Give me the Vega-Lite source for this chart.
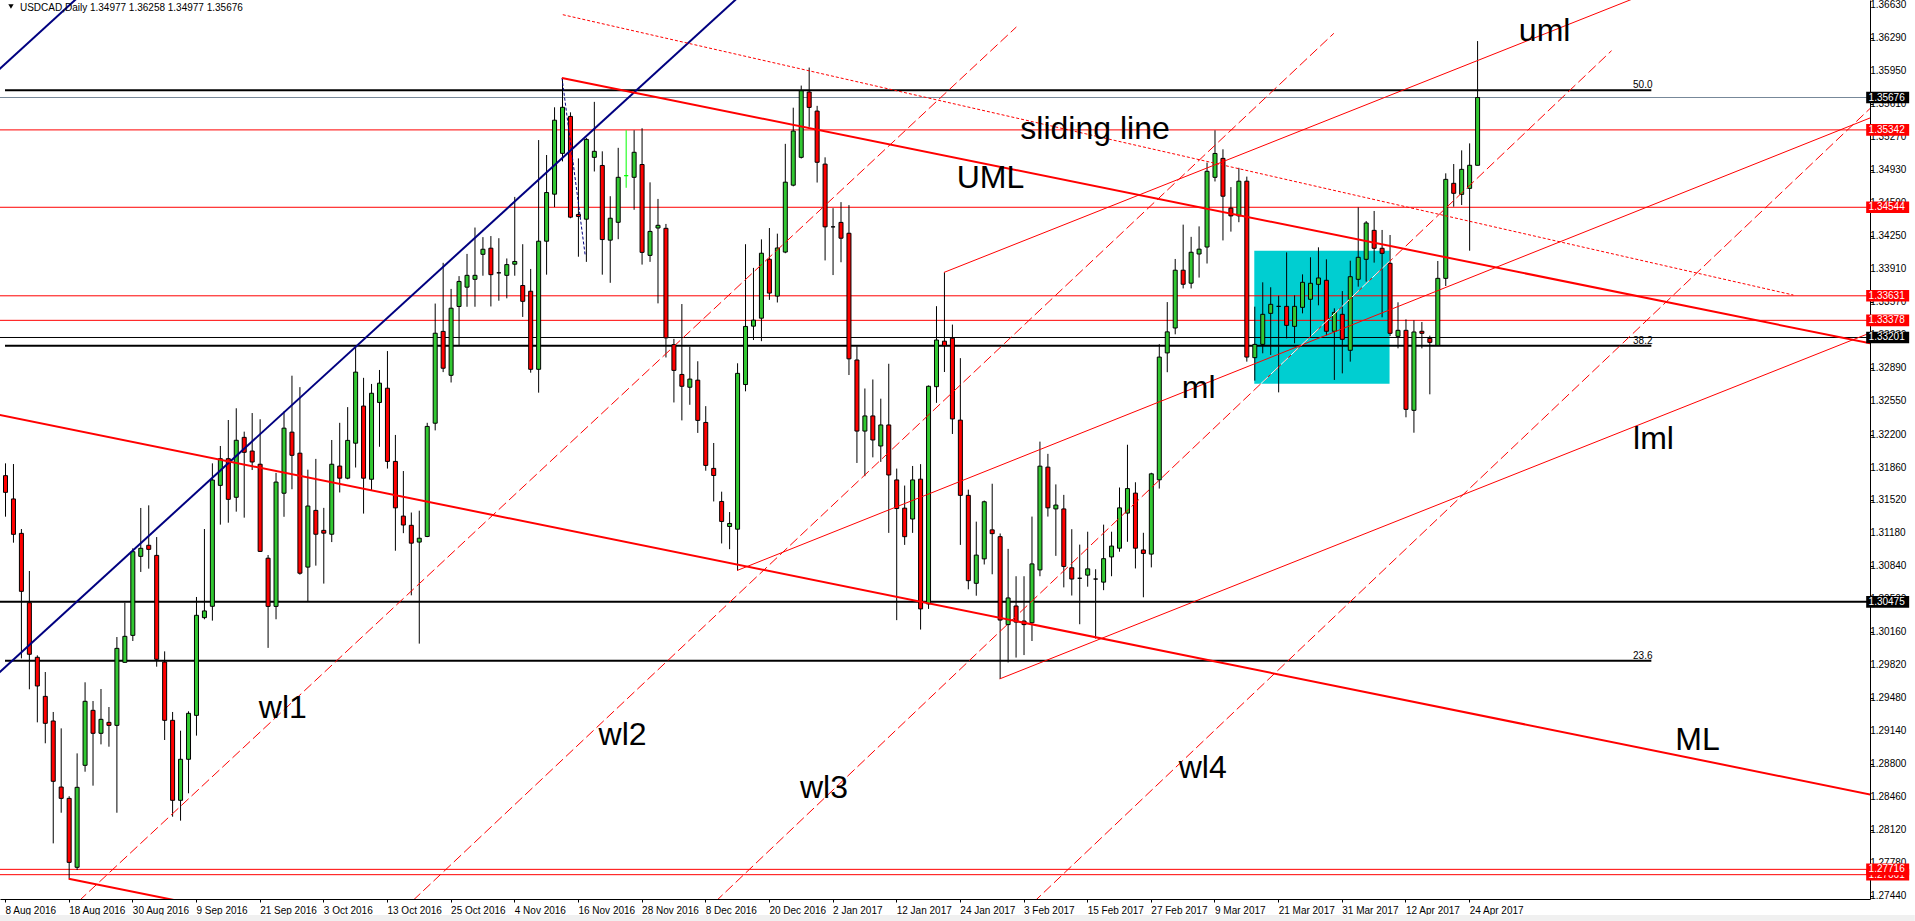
{
  "$schema": "https://vega.github.io/schema/vega-lite/v6.json",
  "width": 1870,
  "height": 899,
  "autosize": {"type": "none"},
  "padding": {"left": 0, "top": 0, "right": 45, "bottom": 22},
  "background": "white",
  "config": {
    "view": {"stroke": null},
    "font": "Liberation Sans",
    "axis": {"labelOverlap": false, "labelFlush": false}
  },
  "datasets": {
    "candles": [
      {"i":0,"o":1.31776,"h":1.31903,"l":1.31353,"c":1.31604},
      {"i":1,"o":1.31536,"h":1.31896,"l":1.31085,"c":1.31171},
      {"i":2,"o":1.31181,"h":1.31226,"l":1.29892,"c":1.30583},
      {"i":3,"o":1.30466,"h":1.30793,"l":1.29573,"c":1.29934},
      {"i":4,"o":1.29903,"h":1.29923,"l":1.29232,"c":1.29607},
      {"i":5,"o":1.29500,"h":1.29751,"l":1.29016,"c":1.29222},
      {"i":6,"o":1.29246,"h":1.29339,"l":1.27984,"c":1.28624},
      {"i":7,"o":1.28565,"h":1.29170,"l":1.28300,"c":1.28448},
      {"i":8,"o":1.28448,"h":1.28470,"l":1.27620,"c":1.27788},
      {"i":9,"o":1.27737,"h":1.28912,"l":1.27709,"c":1.28562},
      {"i":10,"o":1.28789,"h":1.29645,"l":1.28723,"c":1.29449},
      {"i":11,"o":1.29356,"h":1.29452,"l":1.28579,"c":1.29119},
      {"i":12,"o":1.29119,"h":1.29576,"l":1.29005,"c":1.29263},
      {"i":13,"o":1.29232,"h":1.29390,"l":1.28981,"c":1.29201},
      {"i":14,"o":1.29201,"h":1.30112,"l":1.28300,"c":1.29995},
      {"i":15,"o":1.29851,"h":1.30466,"l":1.29847,"c":1.30119},
      {"i":16,"o":1.30129,"h":1.31027,"l":1.30071,"c":1.30992},
      {"i":17,"o":1.30944,"h":1.31443,"l":1.30783,"c":1.31027},
      {"i":18,"o":1.31058,"h":1.31470,"l":1.30817,"c":1.31016},
      {"i":19,"o":1.30954,"h":1.31143,"l":1.29806,"c":1.29882},
      {"i":20,"o":1.29854,"h":1.29964,"l":1.29050,"c":1.29253},
      {"i":21,"o":1.29253,"h":1.29339,"l":1.28259,"c":1.28428},
      {"i":22,"o":1.28428,"h":1.29146,"l":1.28218,"c":1.28851},
      {"i":23,"o":1.28851,"h":1.29346,"l":1.28500,"c":1.29325},
      {"i":24,"o":1.29304,"h":1.30525,"l":1.29095,"c":1.30336},
      {"i":25,"o":1.30312,"h":1.31226,"l":1.30295,"c":1.30381},
      {"i":26,"o":1.30429,"h":1.31903,"l":1.30281,"c":1.31731},
      {"i":27,"o":1.31676,"h":1.32082,"l":1.31271,"c":1.31951},
      {"i":28,"o":1.31951,"h":1.32350,"l":1.31291,"c":1.31532},
      {"i":29,"o":1.31553,"h":1.32471,"l":1.31405,"c":1.32141},
      {"i":30,"o":1.32171,"h":1.32230,"l":1.31343,"c":1.32017},
      {"i":31,"o":1.32030,"h":1.32422,"l":1.31834,"c":1.31917},
      {"i":32,"o":1.31894,"h":1.32358,"l":1.30990,"c":1.30995},
      {"i":33,"o":1.30925,"h":1.30958,"l":1.30000,"c":1.30428},
      {"i":34,"o":1.30428,"h":1.31805,"l":1.30295,"c":1.31710},
      {"i":35,"o":1.31595,"h":1.32439,"l":1.31352,"c":1.32266},
      {"i":36,"o":1.32225,"h":1.32807,"l":1.31636,"c":1.31986},
      {"i":37,"o":1.32008,"h":1.32689,"l":1.30755,"c":1.30770},
      {"i":38,"o":1.30833,"h":1.31838,"l":1.30479,"c":1.31463},
      {"i":39,"o":1.31418,"h":1.31949,"l":1.30848,"c":1.31172},
      {"i":40,"o":1.31212,"h":1.31444,"l":1.30663,"c":1.31183},
      {"i":41,"o":1.31172,"h":1.32144,"l":1.31091,"c":1.31894},
      {"i":42,"o":1.31875,"h":1.32321,"l":1.31603,"c":1.31750},
      {"i":43,"o":1.31750,"h":1.32483,"l":1.31739,"c":1.32140},
      {"i":44,"o":1.32111,"h":1.33116,"l":1.31860,"c":1.32844},
      {"i":45,"o":1.32494,"h":1.32785,"l":1.31385,"c":1.31750},
      {"i":46,"o":1.31739,"h":1.32722,"l":1.31621,"c":1.32626},
      {"i":47,"o":1.32531,"h":1.32866,"l":1.32074,"c":1.32730},
      {"i":48,"o":1.32678,"h":1.33061,"l":1.31849,"c":1.31923},
      {"i":49,"o":1.31923,"h":1.32196,"l":1.31002,"c":1.31444},
      {"i":50,"o":1.31359,"h":1.31824,"l":1.31183,"c":1.31267},
      {"i":51,"o":1.31264,"h":1.31396,"l":1.30542,"c":1.31080},
      {"i":52,"o":1.31091,"h":1.31415,"l":1.30044,"c":1.31131},
      {"i":53,"o":1.31149,"h":1.32321,"l":1.31142,"c":1.32284},
      {"i":54,"o":1.32317,"h":1.33551,"l":1.32243,"c":1.33245},
      {"i":55,"o":1.33264,"h":1.33971,"l":1.32844,"c":1.32884},
      {"i":56,"o":1.32811,"h":1.33702,"l":1.32737,"c":1.33503},
      {"i":57,"o":1.33521,"h":1.33834,"l":1.33116,"c":1.33779},
      {"i":58,"o":1.33720,"h":1.34063,"l":1.33518,"c":1.33842},
      {"i":59,"o":1.33801,"h":1.34335,"l":1.33518,"c":1.33842},
      {"i":60,"o":1.34059,"h":1.34236,"l":1.33838,"c":1.34111},
      {"i":61,"o":1.34122,"h":1.34247,"l":1.33521,"c":1.33849},
      {"i":62,"o":1.33868,"h":1.34225,"l":1.33580,"c":1.33868},
      {"i":63,"o":1.33842,"h":1.34016,"l":1.33605,"c":1.33953},
      {"i":64,"o":1.33957,"h":1.34651,"l":1.33838,"c":1.33985},
      {"i":65,"o":1.33737,"h":1.34163,"l":1.33413,"c":1.33574},
      {"i":66,"o":1.33678,"h":1.33908,"l":1.32838,"c":1.32873},
      {"i":67,"o":1.32873,"h":1.35237,"l":1.32632,"c":1.34194},
      {"i":68,"o":1.34194,"h":1.35083,"l":1.33849,"c":1.34696},
      {"i":69,"o":1.34679,"h":1.35575,"l":1.34546,"c":1.35442},
      {"i":70,"o":1.35100,"h":1.35878,"l":1.35017,"c":1.35575},
      {"i":71,"o":1.35481,"h":1.35523,"l":1.34431,"c":1.34442},
      {"i":72,"o":1.34470,"h":1.35048,"l":1.34034,"c":1.34449},
      {"i":73,"o":1.34421,"h":1.35260,"l":1.33981,"c":1.35244},
      {"i":74,"o":1.35059,"h":1.35631,"l":1.34913,"c":1.35121},
      {"i":75,"o":1.34975,"h":1.35121,"l":1.33849,"c":1.34211},
      {"i":76,"o":1.34205,"h":1.34658,"l":1.33765,"c":1.34431},
      {"i":77,"o":1.34389,"h":1.35157,"l":1.34215,"c":1.34853},
      {"i":78,"o":1.34870,"h":1.35338,"l":1.34745,"c":1.34870},
      {"i":79,"o":1.34853,"h":1.35338,"l":1.34518,"c":1.35111},
      {"i":80,"o":1.34985,"h":1.35359,"l":1.33953,"c":1.34079},
      {"i":81,"o":1.34048,"h":1.34801,"l":1.33981,"c":1.34295},
      {"i":82,"o":1.34330,"h":1.34630,"l":1.33553,"c":1.34358},
      {"i":83,"o":1.34327,"h":1.34372,"l":1.32995,"c":1.33197},
      {"i":84,"o":1.33127,"h":1.33187,"l":1.32531,"c":1.32862},
      {"i":85,"o":1.32820,"h":1.33546,"l":1.32346,"c":1.32698},
      {"i":86,"o":1.32688,"h":1.33106,"l":1.32507,"c":1.32772},
      {"i":87,"o":1.32761,"h":1.32956,"l":1.32217,"c":1.32346},
      {"i":88,"o":1.32325,"h":1.32493,"l":1.31827,"c":1.31882},
      {"i":89,"o":1.31851,"h":1.32113,"l":1.31510,"c":1.31778},
      {"i":90,"o":1.31510,"h":1.31611,"l":1.31077,"c":1.31304},
      {"i":91,"o":1.31252,"h":1.31401,"l":1.31018,"c":1.31283},
      {"i":92,"o":1.31224,"h":1.32935,"l":1.30798,"c":1.32831},
      {"i":93,"o":1.32716,"h":1.34163,"l":1.32646,"c":1.33315},
      {"i":94,"o":1.33318,"h":1.33919,"l":1.33175,"c":1.33380},
      {"i":95,"o":1.33400,"h":1.34213,"l":1.33163,"c":1.34070},
      {"i":96,"o":1.34008,"h":1.34330,"l":1.33589,"c":1.33659},
      {"i":97,"o":1.33628,"h":1.34272,"l":1.33562,"c":1.34124},
      {"i":98,"o":1.34082,"h":1.35198,"l":1.34070,"c":1.34803},
      {"i":99,"o":1.34772,"h":1.35571,"l":1.34760,"c":1.35330},
      {"i":100,"o":1.35059,"h":1.35799,"l":1.35047,"c":1.35745},
      {"i":101,"o":1.35733,"h":1.35985,"l":1.35373,"c":1.35574},
      {"i":102,"o":1.35536,"h":1.35590,"l":1.34799,"c":1.35008},
      {"i":103,"o":1.34989,"h":1.35059,"l":1.33996,"c":1.34342},
      {"i":104,"o":1.34342,"h":1.34535,"l":1.33845,"c":1.34342},
      {"i":105,"o":1.34388,"h":1.34597,"l":1.33977,"c":1.34225},
      {"i":106,"o":1.34276,"h":1.34566,"l":1.32814,"c":1.32981},
      {"i":107,"o":1.32969,"h":1.33109,"l":1.31907,"c":1.32236},
      {"i":108,"o":1.32236,"h":1.32675,"l":1.31771,"c":1.32392},
      {"i":109,"o":1.32392,"h":1.32768,"l":1.31965,"c":1.32144},
      {"i":110,"o":1.32082,"h":1.32570,"l":1.31918,"c":1.32299},
      {"i":111,"o":1.32299,"h":1.32930,"l":1.31186,"c":1.31783},
      {"i":112,"o":1.31732,"h":1.31849,"l":1.30286,"c":1.31437},
      {"i":113,"o":1.31441,"h":1.31674,"l":1.31062,"c":1.31147},
      {"i":114,"o":1.31329,"h":1.31876,"l":1.31186,"c":1.31732},
      {"i":115,"o":1.31740,"h":1.31895,"l":1.30189,"c":1.30402},
      {"i":116,"o":1.30453,"h":1.32706,"l":1.30402,"c":1.32698},
      {"i":117,"o":1.32694,"h":1.33524,"l":1.32527,"c":1.33175},
      {"i":118,"o":1.33163,"h":1.33872,"l":1.32845,"c":1.33117},
      {"i":119,"o":1.33194,"h":1.33334,"l":1.32206,"c":1.32361},
      {"i":120,"o":1.32349,"h":1.32988,"l":1.31062,"c":1.31573},
      {"i":121,"o":1.31573,"h":1.31632,"l":1.30604,"c":1.30693},
      {"i":122,"o":1.30666,"h":1.31302,"l":1.30538,"c":1.30957},
      {"i":123,"o":1.30918,"h":1.31519,"l":1.30860,"c":1.31507},
      {"i":124,"o":1.31217,"h":1.31693,"l":1.30759,"c":1.31178},
      {"i":125,"o":1.31147,"h":1.31180,"l":1.29680,"c":1.30287},
      {"i":126,"o":1.30240,"h":1.31021,"l":1.29850,"c":1.30515},
      {"i":127,"o":1.30432,"h":1.30739,"l":1.29900,"c":1.30266},
      {"i":128,"o":1.30277,"h":1.30739,"l":1.29926,"c":1.30240},
      {"i":129,"o":1.30259,"h":1.31354,"l":1.30071,"c":1.30866},
      {"i":130,"o":1.30804,"h":1.32127,"l":1.30739,"c":1.31874},
      {"i":131,"o":1.31864,"h":1.32001,"l":1.31354,"c":1.31444},
      {"i":132,"o":1.31433,"h":1.31686,"l":1.30949,"c":1.31473},
      {"i":133,"o":1.31433,"h":1.31578,"l":1.30624,"c":1.30840},
      {"i":134,"o":1.30826,"h":1.31224,"l":1.30540,"c":1.30710},
      {"i":135,"o":1.30718,"h":1.31065,"l":1.30244,"c":1.30718},
      {"i":136,"o":1.30750,"h":1.31198,"l":1.30631,"c":1.30815},
      {"i":137,"o":1.30710,"h":1.30811,"l":1.30096,"c":1.30710},
      {"i":138,"o":1.30678,"h":1.31271,"l":1.30595,"c":1.30920},
      {"i":139,"o":1.30938,"h":1.31198,"l":1.30739,"c":1.31050},
      {"i":140,"o":1.31028,"h":1.31654,"l":1.30992,"c":1.31444},
      {"i":141,"o":1.31390,"h":1.32095,"l":1.31094,"c":1.31643},
      {"i":142,"o":1.31596,"h":1.31708,"l":1.30819,"c":1.31028},
      {"i":143,"o":1.31010,"h":1.31187,"l":1.30522,"c":1.30974},
      {"i":144,"o":1.30967,"h":1.31806,"l":1.30830,"c":1.31795},
      {"i":145,"o":1.31733,"h":1.33132,"l":1.31643,"c":1.32999},
      {"i":146,"o":1.33042,"h":1.33566,"l":1.32843,"c":1.33259},
      {"i":147,"o":1.33299,"h":1.34011,"l":1.33234,"c":1.33895},
      {"i":148,"o":1.33895,"h":1.34365,"l":1.33707,"c":1.33750},
      {"i":149,"o":1.33761,"h":1.34239,"l":1.33707,"c":1.34080},
      {"i":150,"o":1.34062,"h":1.34347,"l":1.33819,"c":1.34112},
      {"i":151,"o":1.34134,"h":1.35005,"l":1.33964,"c":1.34915},
      {"i":152,"o":1.34853,"h":1.35337,"l":1.34810,"c":1.35099},
      {"i":153,"o":1.35048,"h":1.35142,"l":1.34202,"c":1.34658},
      {"i":154,"o":1.34535,"h":1.34752,"l":1.34293,"c":1.34455},
      {"i":155,"o":1.34455,"h":1.34951,"l":1.34390,"c":1.34813},
      {"i":156,"o":1.34813,"h":1.34860,"l":1.32952,"c":1.32999},
      {"i":157,"o":1.32993,"h":1.33519,"l":1.32756,"c":1.33130},
      {"i":158,"o":1.33130,"h":1.33770,"l":1.33038,"c":1.33440},
      {"i":159,"o":1.33450,"h":1.33719,"l":1.33021,"c":1.33543},
      {"i":160,"o":1.33522,"h":1.33632,"l":1.32635,"c":1.33522},
      {"i":161,"o":1.33522,"h":1.34079,"l":1.33192,"c":1.33326},
      {"i":162,"o":1.33316,"h":1.33636,"l":1.33141,"c":1.33522},
      {"i":163,"o":1.33512,"h":1.33852,"l":1.33450,"c":1.33770},
      {"i":164,"o":1.33595,"h":1.34028,"l":1.33210,"c":1.33760},
      {"i":165,"o":1.33749,"h":1.34131,"l":1.33533,"c":1.33815},
      {"i":166,"o":1.33791,"h":1.34007,"l":1.33223,"c":1.33265},
      {"i":167,"o":1.33265,"h":1.33502,"l":1.32763,"c":1.33460},
      {"i":168,"o":1.33440,"h":1.33680,"l":1.32831,"c":1.33182},
      {"i":169,"o":1.33069,"h":1.33993,"l":1.32952,"c":1.33828},
      {"i":170,"o":1.33801,"h":1.34543,"l":1.33725,"c":1.34028},
      {"i":171,"o":1.34007,"h":1.34402,"l":1.33777,"c":1.34382},
      {"i":172,"o":1.34306,"h":1.34506,"l":1.33973,"c":1.34121},
      {"i":173,"o":1.34121,"h":1.34310,"l":1.33409,"c":1.34069},
      {"i":174,"o":1.33966,"h":1.34258,"l":1.33216,"c":1.33244},
      {"i":175,"o":1.33213,"h":1.33564,"l":1.33089,"c":1.33275},
      {"i":176,"o":1.33275,"h":1.33388,"l":1.32378,"c":1.32460},
      {"i":177,"o":1.32450,"h":1.33378,"l":1.32219,"c":1.33258},
      {"i":178,"o":1.33265,"h":1.33361,"l":1.33089,"c":1.33244},
      {"i":179,"o":1.33192,"h":1.33220,"l":1.32615,"c":1.33151},
      {"i":180,"o":1.33120,"h":1.33990,"l":1.33120,"c":1.33811},
      {"i":181,"o":1.33811,"h":1.34894,"l":1.33732,"c":1.34832},
      {"i":182,"o":1.34791,"h":1.34990,"l":1.34550,"c":1.34688},
      {"i":183,"o":1.34677,"h":1.35131,"l":1.34567,"c":1.34935},
      {"i":184,"o":1.34739,"h":1.35203,"l":1.34096,"c":1.34977},
      {"i":185,"o":1.34977,"h":1.36258,"l":1.34977,"c":1.35676}
    ],
    "zone": [{"x1":157,"x2":174,"top":1.34096,"bottom":1.32723}],
    "priceScale": [{"p":1.3663},{"p":1.3629},{"p":1.3595},{"p":1.3561},{"p":1.3527},{"p":1.3493},{"p":1.3459},{"p":1.3425},{"p":1.3391},{"p":1.3357},{"p":1.3323},{"p":1.3289},{"p":1.3255},{"p":1.322},{"p":1.3186},{"p":1.3152},{"p":1.3118},{"p":1.3084},{"p":1.305},{"p":1.3016},{"p":1.2982},{"p":1.2948},{"p":1.2914},{"p":1.288},{"p":1.2846},{"p":1.2812},{"p":1.2778},{"p":1.2744}],
    "redLevels": [{"p":1.35342},{"p":1.34544},{"p":1.33631},{"p":1.33378},{"p":1.27661},{"p":1.27716}],
    "blackLevels": [{"p":1.35676},{"p":1.33201},{"p":1.30475}],
    "fib": [{"p":1.35750,"t":"50.0"},{"p":1.33116,"t":"38.2"},{"p":1.29868,"t":"23.6"}],
    "thickRed": [
      {"n":"UML","x1":70,"p1":1.35878,"x2":240,"p2":1.33047},
      {"n":"ML","x1":-5,"p1":1.32475,"x2":240,"p2":1.28395},
      {"n":"lower","x1":8,"p1":1.27620,"x2":30,"p2":1.27254}
    ],
    "thinRed": [
      {"n":"uml","x1":118,"p1":1.33872,"x2":215,"p2":1.37033},
      {"n":"ml","x1":92,"p1":1.30798,"x2":240,"p2":1.35649},
      {"n":"lml","x1":125,"p1":1.29680,"x2":240,"p2":1.33431}
    ],
    "warningLines": [
      {"n":"wl1","x1":8,"p1":1.27291,"x2":127.1,"p2":1.36403},
      {"n":"wl2","x1":50,"p1":1.27297,"x2":167,"p2":1.36338},
      {"n":"wl3","x1":88,"p1":1.27283,"x2":201.9,"p2":1.36159},
      {"n":"wl4","x1":128,"p1":1.27279,"x2":240,"p2":1.36000}
    ],
    "wl3InZone": [{"x1":157.8,"p1":1.32723,"x2":174,"p2":1.33987}],
    "slidingLine": [{"x1":70.1,"p1":1.36530,"x2":224.75,"p2":1.33639}],
    "navy": [
      {"x1":-2,"p1":1.35872,"x2":10,"p2":1.36771},
      {"x1":-2,"p1":1.29650,"x2":95,"p2":1.36924}
    ],
    "navyDash": [{"x1":70,"p1":1.35878,"x2":72.9,"p2":1.34058}],
    "labels": [
      {"t":"uml","x":190.25,"p":1.36262},
      {"t":"sliding line","x":127.6,"p":1.35248},
      {"t":"UML","x":119.6,"p":1.34743},
      {"t":"ml","x":147.9,"p":1.32577},
      {"t":"lml","x":204.6,"p":1.32048},
      {"t":"ML","x":209.9,"p":1.28947},
      {"t":"wl1","x":31.9,"p":1.29277},
      {"t":"wl2","x":74.6,"p":1.28998},
      {"t":"wl3","x":99.9,"p":1.28452},
      {"t":"wl4","x":147.5,"p":1.28658}
    ],
    "header": [{"t":"USDCAD,Daily  1.34977 1.36258 1.34977 1.35676","x":1.875,"p":1.36568}]
  },
  "layer": [
    {
      "data": {"name": "zone"},
      "mark": {"type": "rect", "fill": "#00CED1"},
      "encoding": {
        "x": {
          "field": "x1", "type": "quantitative",
          "scale": {"domain": [0, 233.75], "nice": false, "zero": false},
          "axis": {
            "title": null,
            "values": [0,8,16,24,32,40,48,56,64,72,80,88,96,104,112,120,128,136,144,152,160,168,176,184],
            "labelExpr": "['8 Aug 2016','18 Aug 2016','30 Aug 2016','9 Sep 2016','21 Sep 2016','3 Oct 2016','13 Oct 2016','25 Oct 2016','4 Nov 2016','16 Nov 2016','28 Nov 2016','8 Dec 2016','20 Dec 2016','2 Jan 2017','12 Jan 2017','24 Jan 2017','3 Feb 2017','15 Feb 2017','27 Feb 2017','9 Mar 2017','21 Mar 2017','31 Mar 2017','12 Apr 2017','24 Apr 2017'][datum.value / 8]",
            "labelAlign": "left", "labelBaseline": "top", "labelFlush": false, "labelOverlap": false,
            "labelFont": "Liberation Sans", "labelFontSize": 10, "labelColor": "black",
            "tickSize": 3, "tickColor": "black", "domainColor": "black", "labelPadding": 3, "grid": false
          }
        },
        "x2": {"field": "x2"},
        "y": {
          "field": "top", "type": "quantitative",
          "scale": {"domain": [1.274102, 1.366816], "nice": false, "zero": false},
          "axis": {
            "orient": "right", "title": null,
            "values": [1.3663,1.3629,1.3595,1.3561,1.3527,1.3493,1.3459,1.3425,1.3391,1.3357,1.3323,1.3289,1.3255,1.322,1.3186,1.3152,1.3118,1.3084,1.305,1.3016,1.2982,1.2948,1.2914,1.288,1.2846,1.2812,1.2778,1.2744],
            "labels": false,
            "tickSize": 3, "tickColor": "black", "domainColor": "black", "grid": false
          }
        },
        "y2": {"field": "bottom"}
      }
    },
    {
      "data": {"name": "redLevels"},
      "mark": {"type": "rule", "color": "#FF0000", "strokeWidth": 1},
      "encoding": {"y": {"field": "p", "type": "quantitative", "title": null}}
    },
    {
      "data": {"values": [{"p": 1.35676}]},
      "mark": {"type": "rule", "color": "#778899", "strokeWidth": 1},
      "encoding": {"y": {"field": "p", "type": "quantitative", "title": null}}
    },
    {
      "data": {"values": [{"p": 1.33201}]},
      "mark": {"type": "rule", "color": "black", "strokeWidth": 1},
      "encoding": {"y": {"field": "p", "type": "quantitative", "title": null}}
    },
    {
      "data": {"values": [{"p": 1.30475}]},
      "mark": {"type": "rule", "color": "black", "strokeWidth": 2},
      "encoding": {"y": {"field": "p", "type": "quantitative", "title": null}}
    },
    {
      "data": {"name": "fib"},
      "mark": {"type": "rule", "color": "black", "strokeWidth": 2},
      "encoding": {
        "x": {"datum": 0},
        "x2": {"datum": 206.9},
        "y": {"field": "p", "type": "quantitative", "title": null}
      }
    },
    {
      "data": {"name": "fib"},
      "mark": {"type": "text", "align": "left", "baseline": "alphabetic", "dy": -2, "fontSize": 10, "font": "Liberation Sans", "color": "black"},
      "encoding": {
        "x": {"datum": 204.6},
        "y": {"field": "p", "type": "quantitative", "title": null},
        "text": {"field": "t"}
      }
    },
    {
      "data": {"name": "candles"},
      "mark": {"type": "rule", "strokeWidth": 1, "xOffset": 0.5, "clip": true},
      "encoding": {
        "x": {"field": "i", "type": "quantitative", "title": null},
        "y": {"field": "l", "type": "quantitative", "title": null},
        "y2": {"field": "h"},
        "color": {"condition": {"test": "datum.i == 78", "value": "#00FF00"}, "value": "black"}
      }
    },
    {
      "data": {"name": "candles"},
      "mark": {"type": "bar", "size": 4, "strokeWidth": 1, "xOffset": 0.5, "clip": true},
      "encoding": {
        "x": {"field": "i", "type": "quantitative", "title": null},
        "y": {"field": "o", "type": "quantitative", "title": null},
        "y2": {"field": "c"},
        "fill": {"condition": [{"test": "datum.c > datum.o", "value": "#32C832"}, {"test": "datum.c < datum.o", "value": "#FF0000"}], "value": "black"},
        "stroke": {"condition": {"test": "datum.i == 78", "value": "#00FF00"}, "value": "black"}
      }
    },
    {
      "data": {"name": "navy"},
      "mark": {"type": "rule", "color": "#000080", "strokeWidth": 2, "clip": true},
      "encoding": {
        "x": {"field": "x1", "type": "quantitative", "title": null}, "x2": {"field": "x2"},
        "y": {"field": "p1", "type": "quantitative", "title": null}, "y2": {"field": "p2"}
      }
    },
    {
      "data": {"name": "navyDash"},
      "mark": {"type": "rule", "color": "#000080", "strokeWidth": 1, "strokeDash": [3, 2], "clip": true},
      "encoding": {
        "x": {"field": "x1", "type": "quantitative", "title": null}, "x2": {"field": "x2"},
        "y": {"field": "p1", "type": "quantitative", "title": null}, "y2": {"field": "p2"}
      }
    },
    {
      "data": {"name": "thickRed"},
      "mark": {"type": "rule", "color": "#FF0000", "strokeWidth": 2, "clip": true},
      "encoding": {
        "x": {"field": "x1", "type": "quantitative", "title": null}, "x2": {"field": "x2"},
        "y": {"field": "p1", "type": "quantitative", "title": null}, "y2": {"field": "p2"}
      }
    },
    {
      "data": {"name": "thinRed"},
      "mark": {"type": "rule", "color": "#FF0000", "strokeWidth": 1, "clip": true},
      "encoding": {
        "x": {"field": "x1", "type": "quantitative", "title": null}, "x2": {"field": "x2"},
        "y": {"field": "p1", "type": "quantitative", "title": null}, "y2": {"field": "p2"}
      }
    },
    {
      "data": {"name": "warningLines"},
      "mark": {"type": "rule", "color": "#FF0000", "strokeWidth": 1, "strokeDash": [10, 4], "clip": true},
      "encoding": {
        "x": {"field": "x1", "type": "quantitative", "title": null}, "x2": {"field": "x2"},
        "y": {"field": "p1", "type": "quantitative", "title": null}, "y2": {"field": "p2"}
      }
    },
    {
      "data": {"name": "wl3InZone"},
      "mark": {"type": "rule", "color": "white", "strokeWidth": 1, "strokeDash": [10, 4], "clip": true},
      "encoding": {
        "x": {"field": "x1", "type": "quantitative", "title": null}, "x2": {"field": "x2"},
        "y": {"field": "p1", "type": "quantitative", "title": null}, "y2": {"field": "p2"}
      }
    },
    {
      "data": {"name": "slidingLine"},
      "mark": {"type": "rule", "color": "#FF0000", "strokeWidth": 1, "strokeDash": [3, 2], "clip": true},
      "encoding": {
        "x": {"field": "x1", "type": "quantitative", "title": null}, "x2": {"field": "x2"},
        "y": {"field": "p1", "type": "quantitative", "title": null}, "y2": {"field": "p2"}
      }
    },
    {
      "data": {"name": "labels"},
      "mark": {"type": "text", "align": "left", "baseline": "alphabetic", "fontSize": 32, "font": "Liberation Sans", "color": "black"},
      "encoding": {
        "x": {"field": "x", "type": "quantitative", "title": null},
        "y": {"field": "p", "type": "quantitative", "title": null},
        "text": {"field": "t"}
      }
    },
    {
      "data": {"name": "header"},
      "mark": {"type": "text", "align": "left", "baseline": "alphabetic", "fontSize": 10, "font": "Liberation Sans", "color": "black"},
      "encoding": {
        "x": {"field": "x", "type": "quantitative", "title": null},
        "y": {"field": "p", "type": "quantitative", "title": null},
        "text": {"field": "t"}
      }
    },
    {
      "data": {"values": [{"p": 1.36615}]},
      "mark": {"type": "point", "shape": "triangle-down", "size": 28, "filled": true, "color": "black", "opacity": 1},
      "encoding": {
        "x": {"datum": 0.75},
        "y": {"field": "p", "type": "quantitative", "title": null}
      }
    },
    {
      "data": {"name": "priceScale"},
      "mark": {"type": "text", "align": "left", "baseline": "middle", "fontSize": 10, "font": "Liberation Sans", "color": "black"},
      "encoding": {
        "x": {"datum": 234.4},
        "y": {"field": "p", "type": "quantitative", "title": null},
        "text": {"field": "p", "type": "quantitative", "format": ".5f"}
      }
    },
    {
      "data": {"name": "redLevels"},
      "transform": [{"filter": "datum.p != 1.27716"}],
      "mark": {"type": "point", "shape": "M-1,-0.27L1,-0.27L1,0.27L-1,0.27Z", "size": 1849, "filled": true, "color": "#FF0000", "opacity": 1, "strokeWidth": 0},
      "encoding": {
        "x": {"datum": 236.6},
        "y": {"field": "p", "type": "quantitative", "title": null}
      }
    },
    {
      "data": {"name": "blackLevels"},
      "mark": {"type": "point", "shape": "M-1,-0.27L1,-0.27L1,0.27L-1,0.27Z", "size": 1849, "filled": true, "color": "black", "opacity": 1, "strokeWidth": 0},
      "encoding": {
        "x": {"datum": 236.6},
        "y": {"field": "p", "type": "quantitative", "title": null}
      }
    },
    {
      "data": {"name": "redLevels"},
      "transform": [{"filter": "datum.p != 1.27716"}],
      "mark": {"type": "text", "align": "left", "baseline": "middle", "fontSize": 10, "font": "Liberation Sans", "color": "white"},
      "encoding": {
        "x": {"datum": 234.2},
        "y": {"field": "p", "type": "quantitative", "title": null},
        "text": {"field": "p", "type": "quantitative", "format": ".5f"}
      }
    },
    {
      "data": {"name": "blackLevels"},
      "mark": {"type": "text", "align": "left", "baseline": "middle", "fontSize": 10, "font": "Liberation Sans", "color": "white"},
      "encoding": {
        "x": {"datum": 234.2},
        "y": {"field": "p", "type": "quantitative", "title": null},
        "text": {"field": "p", "type": "quantitative", "format": ".5f"}
      }
    },
    {
      "data": {"name": "redLevels"},
      "transform": [{"filter": "datum.p == 1.27716"}],
      "mark": {"type": "point", "shape": "M-1,-0.27L1,-0.27L1,0.27L-1,0.27Z", "size": 1849, "filled": true, "color": "#FF0000", "opacity": 1, "strokeWidth": 0},
      "encoding": {
        "x": {"datum": 236.6},
        "y": {"field": "p", "type": "quantitative", "title": null}
      }
    },
    {
      "data": {"name": "redLevels"},
      "transform": [{"filter": "datum.p == 1.27716"}],
      "mark": {"type": "text", "align": "left", "baseline": "middle", "fontSize": 10, "font": "Liberation Sans", "color": "white"},
      "encoding": {
        "x": {"datum": 234.2},
        "y": {"field": "p", "type": "quantitative", "title": null},
        "text": {"field": "p", "type": "quantitative", "format": ".5f"}
      }
    },
    {
      "data": {"values": [{"a": 1}]},
      "mark": {"type": "rect", "fill": "#F0F0F0"},
      "encoding": {
        "x": {"datum": -1},
        "x2": {"datum": 240},
        "y": {"datum": 1.27245},
        "y2": {"datum": 1.2710}
      }
    }
  ]
}
